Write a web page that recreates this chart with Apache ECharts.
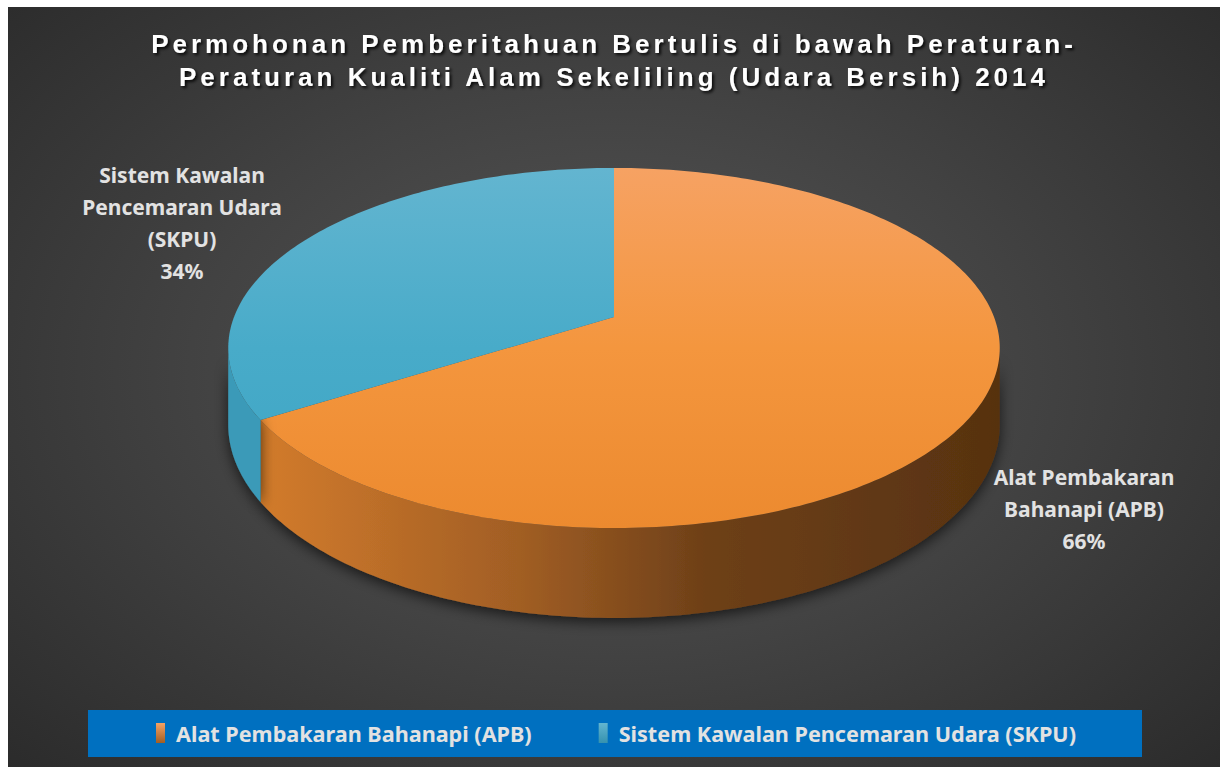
<!DOCTYPE html>
<html>
<head>
<meta charset="utf-8">
<script src="https://cdn.jsdelivr.net/npm/echarts@6/dist/echarts.min.js"></script>
<style>
    html, body { margin: 0; padding: 0; background: #ffffff; }
    #main {
        position: absolute; left: 8px; top: 7px; width: 1212px; height: 760px;
        background: radial-gradient(ellipse 70% 75% at 50% 48%, #575757 0%, #424242 50%, #2b2b2b 100%);
    }
</style>
</head>
<body>
<div id="main"></div>
<script>
// data
let titleLines = ['Permohonan Pemberitahuan Bertulis di bawah Peraturan-', 'Peraturan Kualiti Alam Sekeliling (Udara Bersih) 2014'];
let categories = ['Alat Pembakaran Bahanapi (APB)', 'Sistem Kawalan Pencemaran Udara (SKPU)'];
let labelLines = [['Alat Pembakaran', 'Bahanapi (APB)'], ['Sistem Kawalan', 'Pencemaran Udara', '(SKPU)']];
let values = [66, 34];

let total = values.reduce((a, b) => a + b, 0);

// 3d pie geometry (perspective tilt)
const CX = 606, CY = 310, RX = 380, RY = 174.7, K = 0.172, DEPTH = 74.5;
const VIS0 = Math.acos(-K), VIS1 = 2 * Math.PI - Math.acos(-K);
let labelAt = [[1076, 454], [174, 152]];

let topColors = [
    ['#F6A263', '#F4963E', '#EC8A2F'],
    ['#63B5D0', '#48ABC9', '#3CA5C4']
];
let sideColors = [
    ['#D27B2C', '#A15E24', '#6E4018', '#573210'],
    ['#3A9AB8', '#3592AF', '#2E86A2', '#2A7C96']
];

function proj(phi, down) {
    let u = Math.sin(phi), v = -Math.cos(phi), w = 1 - K * v;
    return [CX + RX * u / w, CY + RY * v / w + (down ? DEPTH / w : 0)];
}

function arc(a0, a1, down) {
    let pts = [];
    let n = Math.max(2, Math.ceil((a1 - a0) / (Math.PI / 180)));
    for (let i = 0; i <= n; i++) {
        pts.push(proj(a0 + (a1 - a0) * i / n, down));
    }
    return pts;
}

function makeRender(idx) {
    return function (params, api) {
        let val = api.value(0);
        let before = 0;
        for (let j = 0; j < idx; j++) before += values[j];
        let a0 = before / total * 2 * Math.PI;
        let a1 = (before + val) / total * 2 * Math.PI;
        let children = [];

        let s0 = Math.max(a0, VIS0), s1 = Math.min(a1, VIS1);
        if (s1 > s0) {
            let pts = arc(s0, s1, false).concat(arc(s0, s1, true).reverse());
            let sc = sideColors[idx];
            children.push({
                type: 'polygon',
                shape: { points: pts },
                style: {
                    fill: new echarts.graphic.LinearGradient(254, 0, 992, 0, [
                        { offset: 0, color: sc[0] },
                        { offset: 0.35, color: sc[1] },
                        { offset: 0.6, color: sc[2] },
                        { offset: 1, color: sc[3] }
                    ], true),
                    shadowBlur: 14,
                    shadowColor: 'rgba(0,0,0,0.65)',
                    shadowOffsetY: 4
                }
            });
        }

        let tc = topColors[idx];
        children.push({
            type: 'polygon',
            shape: { points: [[CX, CY]].concat(arc(a0, a1, false)) },
            style: {
                fill: new echarts.graphic.LinearGradient(0, 161, 0, 521, [
                    { offset: 0, color: tc[0] },
                    { offset: 0.5, color: tc[1] },
                    { offset: 1, color: tc[2] }
                ], true)
            }
        });

        let pct = Math.round(val / total * 100);
        children.push({
            type: 'text',
            x: labelAt[idx][0],
            y: labelAt[idx][1],
            style: {
                text: labelLines[idx].concat([pct + '%']).join('\n'),
                fill: '#E2E2E2',
                fontSize: 21,
                fontWeight: 'bold',
                fontFamily: 'Noto Sans',
                lineHeight: 32,
                align: 'center',
                textAlign: 'center',
                verticalAlign: 'top',
                textVerticalAlign: 'top'
            }
        });
        return { type: 'group', children: children };
    };
}

let chart = echarts.init(document.getElementById('main'), null, { renderer: 'svg' });

let option = {
    animation: false,
    title: {
        text: titleLines.join('\n'),
        left: 'center',
        top: 15,
        padding: [5, 5, 5, 15],
        textStyle: {
            fontFamily: 'Liberation Sans',
            fontSize: 26,
            fontWeight: 'bold',
            color: '#FFFFFF',
            lineHeight: 33,
            textShadowColor: 'rgba(0,0,0,0.85)',
            textShadowBlur: 3,
            textShadowOffsetX: 2,
            textShadowOffsetY: 2
        }
    },
    graphic: [{
        type: 'rect',
        left: 80, top: 703,
        shape: { width: 1054, height: 47 },
        style: { fill: '#0070C0' },
        z: -1
    }],
    legend: {
        left: 143,
        top: 710,
        itemWidth: 9,
        itemHeight: 20,
        itemGap: 67,
        icon: 'rect',
        selectedMode: false,
        data: categories,
        textStyle: {
            color: '#E2E2E2',
            fontFamily: 'Noto Sans',
            fontWeight: 'bold',
            fontSize: 21.6,
            padding: [0, 0, 0, 6]
        }
    },
    series: categories.map((name, i) => ({
        type: 'custom',
        name: name,
        coordinateSystem: 'none',
        itemStyle: {
            color: new echarts.graphic.LinearGradient(0, 0, 0, 1, [
                { offset: 0, color: topColors[i][0] },
                { offset: 1, color: sideColors[i][1] }
            ])
        },
        renderItem: makeRender(i),
        data: [[values[i]]]
    }))
};

chart.setOption(option);

// letter spacing for the title lines
document.querySelectorAll('#main svg text').forEach((el) => {
    if (titleLines.indexOf(el.textContent) >= 0) {
        el.style.letterSpacing = '4px';
    }
});
</script>
</body>
</html>
